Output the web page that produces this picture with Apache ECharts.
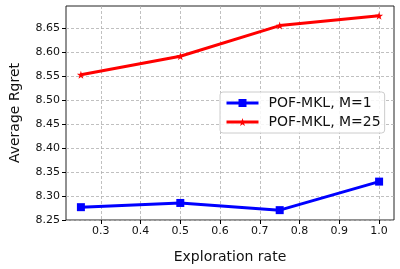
<!DOCTYPE html>
<html><head><meta charset="utf-8">
<script src="https://cdn.jsdelivr.net/npm/echarts@6/dist/echarts.min.js"></script>
<style>html,body{margin:0;padding:0;background:#fff}#c{width:400px;height:269px}</style>
</head><body><div id="c"></div>
<script>
const explorationRates = [0.25, 0.5, 0.75, 1.0];
const regretM1 = [8.2766, 8.2854, 8.2704, 8.330];
const regretM25 = [8.5533, 8.592, 8.656, 8.6766];
const xTicks = [0.3, 0.4, 0.5, 0.6, 0.7, 0.8, 0.9, 1.0];
const yTicks = [8.25, 8.30, 8.35, 8.40, 8.45, 8.50, 8.55, 8.60, 8.65];
const seriesNames = ['POF-MKL, M=1', 'POF-MKL, M=25'];

const star = 'path://M50,0 L61,35 L98,35 L68,57 L79,91 L50,70 L21,91 L32,57 L2,35 L39,35 Z';
const font = 'DejaVu Sans';
const chart = echarts.init(document.getElementById('c'), null, {renderer: 'canvas'});
chart.setOption({
  animation: false,
  textStyle: {fontFamily: font},
  grid: {left: 59, right: 6, top: 6, bottom: 45, show: true, borderColor: '#222', borderWidth: 1, backgroundColor: 'transparent'},
  legend: {
    left: 220, top: 92, orient: 'vertical', itemGap: 5, itemWidth: 32, itemHeight: 10,
    backgroundColor: 'rgba(255,255,255,0.85)', borderColor: '#ccc', borderWidth: 1, borderRadius: 3, padding: [4, 4, 4, 5],
    lineStyle: {width: 3},
    textStyle: {fontFamily: font, fontSize: 14, color: '#111', padding: [0, 0, 0, 5]},
    data: seriesNames
  },
  xAxis: {
    type: 'value', min: 0.2125, max: 1.0375,
    name: 'Exploration rate', nameLocation: 'middle', nameGap: 30,
    nameTextStyle: {fontFamily: font, fontSize: 14, color: '#111'},
    axisLine: {show: false},
    axisTick: {show: true, length: 4, lineStyle: {color: '#000'}, customValues: xTicks},
    axisLabel: {fontFamily: font, fontSize: 11, color: '#111', margin: 6, customValues: xTicks, formatter: v => v.toFixed(1)},
    splitLine: {show: true, lineStyle: {color: '#b0b0b0', type: [3, 2], width: 0.8}}
  },
  yAxis: {
    type: 'value', min: 8.2498, max: 8.6969,
    name: 'Average Rgret', nameLocation: 'middle', nameGap: 44, nameRotate: 90,
    nameTextStyle: {fontFamily: font, fontSize: 14, color: '#111'},
    axisLine: {show: false},
    axisTick: {show: true, length: 4, lineStyle: {color: '#000'}, customValues: yTicks},
    axisLabel: {fontFamily: font, fontSize: 11, color: '#111', margin: 6, customValues: yTicks, formatter: v => v.toFixed(2)},
    splitLine: {show: true, lineStyle: {color: '#b0b0b0', type: [3, 2], width: 0.8}}
  },
  series: [
    {name: seriesNames[0], type: 'line', data: explorationRates.map((x, i) => [x, regretM1[i]]),
     color: '#0000ff', lineStyle: {width: 3}, symbol: 'rect', symbolSize: 8, showAllSymbol: true},
    {name: seriesNames[1], type: 'line', data: explorationRates.map((x, i) => [x, regretM25[i]]),
     color: '#ff0000', lineStyle: {width: 3}, symbol: star, symbolSize: 8, showAllSymbol: true}
  ]
});
</script></body></html>
